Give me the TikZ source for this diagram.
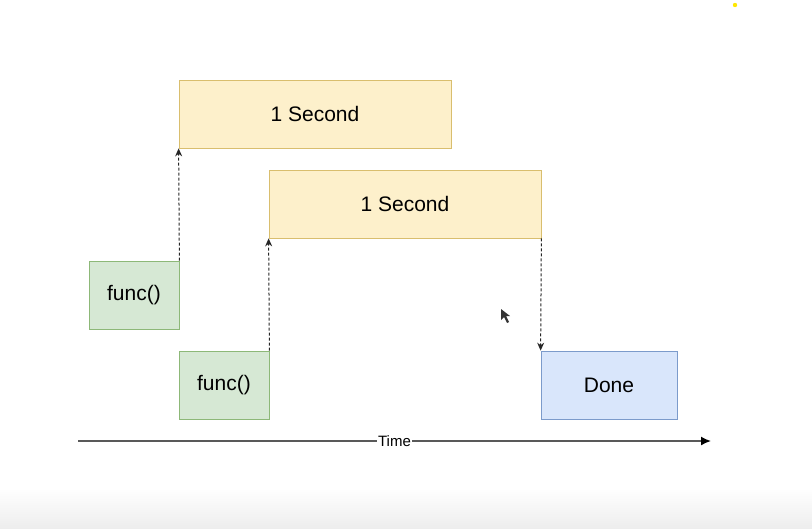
\documentclass[tikz,border=0pt]{standalone}
\usepackage{fontspec}
\setmainfont{Liberation Sans}
\usetikzlibrary{arrows.meta}

\definecolor{yellowfill}{HTML}{FDF0CB}
\definecolor{yellowline}{HTML}{D9BE6E}
\definecolor{greenfill}{HTML}{D6E8D4}
\definecolor{greenline}{HTML}{8DB878}
\definecolor{bluefill}{HTML}{D9E6FB}
\definecolor{blueline}{HTML}{7C9BCB}

\tikzset{every picture/.style={line width=0.75pt}}

\begin{document}
\begin{tikzpicture}[
    x=1pt, y=-1pt,
    every node/.style={minimum height=68pt, inner sep=0pt, font=\fontsize{21}{25}\selectfont},
    wait/.style={draw=yellowline, fill=yellowfill, minimum width=272pt},
    call/.style={draw=greenline, fill=greenfill, minimum width=90pt},
    result/.style={draw=blueline, fill=bluefill, minimum width=136pt},
    link/.style={dash pattern=on 3pt off 2pt, -{Stealth[length=8pt,width=7pt]}, line width=1pt, black!85},
]
    \useasboundingbox (0,0) rectangle (812,528);
    \shade[top color=white, bottom color=black!7] (0,488) rectangle (812,528);
    \fill[yellow!90!orange] (735,5) circle (2.2pt);

    \node[wait] (sec1) at (315,114) {\raisebox{-2pt}{1 Second}};
    \node[wait] (sec2) at (405,204) {\raisebox{-2pt}{1 Second}};

    \node[call] (func1) at (134,295) {func()};
    \node[call] (func2) at (224,385) {func()};

    \node[result] (done) at (609,385) {\raisebox{-2pt}{Done}};

    \draw[link] (func1.north east) -- (sec1.south west);
    \draw[link] (func2.north east) -- (sec2.south west);
    \draw[link] (sec2.south east) -- (done.north west);

    % time axis
    \coordinate (t0) at (78,441);
    \coordinate (t1) at (711,441);
    \draw[black!65, line width=1.6pt, -{Latex[length=10pt,width=9pt,black]}] (t0) -- node[fill=white, minimum height=0pt, inner sep=1pt, text=black, font=\fontsize{15}{18}\selectfont] (time) {\raisebox{-2pt}{Time}} (t1);

    % mouse pointer
    \fill[black!80] (501,309) -- (501,320) -- (504,317) -- (507,323) -- (509,322) -- (506,316) -- (510,316) -- cycle;
\end{tikzpicture}
\end{document}
